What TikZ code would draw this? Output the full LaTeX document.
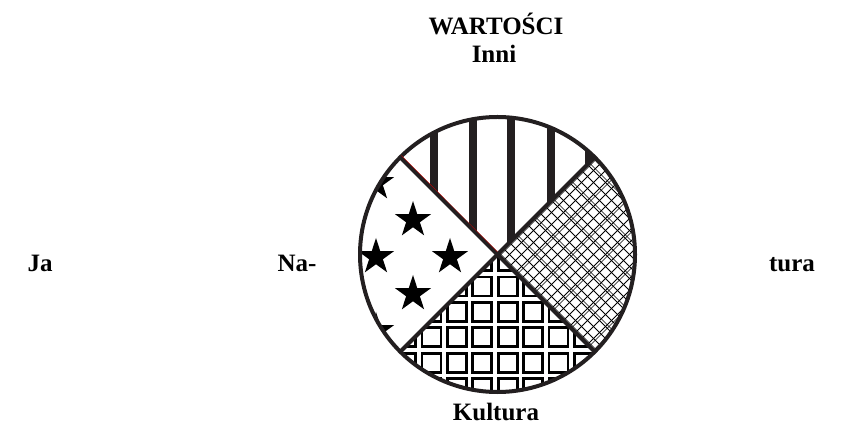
\documentclass[tikz,border=0pt]{standalone}
\usepackage{fontspec}
\setmainfont{Liberation Serif}
\usetikzlibrary{shapes.geometric}
\definecolor{ink}{HTML}{231F20}
\begin{document}
\begin{tikzpicture}[x=0.75pt,y=-0.75pt,
  lbl/.style={font=\fontsize{18.75}{22}\selectfont\bfseries, inner sep=0, anchor=base},
  starmark/.style={star, star points=5, star point ratio=2.618, fill=black, draw=none, inner sep=0pt, minimum size=28.5pt},
  hatch/.style={black, line width=0.55pt},
  cell/.style={black, line width=2.1pt},
  outline/.style={ink, line width=3pt}]
\useasboundingbox (0,0) rectangle (856,434);
\coordinate (c) at (497.5,254.5);
\coordinate (ul) at (400.3,157.3);
\coordinate (ur) at (594.7,157.3);
\coordinate (ll) at (400.3,351.7);
\coordinate (lr) at (594.7,351.7);
\coordinate (ulr) at (401.3,155.5);
\coordinate (cr) at (497.5,251.8);
% left sector: stars
\begin{scope}
  \clip (c) circle[radius=137.5];
  \clip (c) -- ++(-300,-300) -- ++(0,600) -- cycle;
  \foreach \p [count=\n] in {(413,220),(450,257),(376,257),(413,294),(376,183),(450,183),(376,331),(450,331),(339,220),(339,294)}
    \node[starmark] (st\n) at \p {};
\end{scope}
% top sector: vertical stripes
\begin{scope}
  \clip (c) circle[radius=137.5];
  \clip (c) -- ++(-300,-300) -- ++(600,0) -- cycle;
  \foreach \x in {434,472.5,511,551,589}
    \fill[ink] (\x-4,100) rectangle (\x+4,260);
\end{scope}
% right sector: diagonal crosshatch
\begin{scope}
  \clip (c) circle[radius=137.5];
  \clip (c) -- ++(300,-300) -- ++(0,600) -- cycle;
  \foreach \k in {-30,...,30} {
    \draw[hatch] (c) ++(\k*12,0) ++(-300,-300) -- ++(600,600);
    \draw[hatch] (c) ++(\k*12,0) ++(-300,300) -- ++(600,-600);
  }
  \foreach \k in {-10,...,10} {
    \draw[hatch, line width=0.4pt] (c) ++(\k*36+3.5,0) ++(-300,-300) -- ++(600,600);
    \draw[hatch, line width=0.4pt] (c) ++(\k*36+3.5,0) ++(-300,300) -- ++(600,-600);
  }
\end{scope}
% bottom sector: square grid
\begin{scope}
  \clip (c) circle[radius=137.5];
  \clip (c) -- ++(-300,300) -- ++(600,0) -- cycle;
  \foreach \i in {-4,...,8}
    \foreach \j in {-2,...,5}
      \draw[cell] (422+\i*25.4,277+\j*25.4) rectangle ++(19,19);
\end{scope}
% outline and dividers
\draw[outline] (c) circle[radius=137.5];
\draw[outline] (ul) -- (lr);
\draw[outline] (ur) -- (ll);
\draw[red!80!black, line width=0.25pt] (ulr) -- (cr);
% labels
\node[lbl] (wart) at (496,35) {WARTOŚCI};
\node[lbl] (inni) at (494,63) {Inni};
\node[lbl] (kult) at (496,420) {Kultura};
\node[lbl] (ja) at (40,272) {Ja};
\node[lbl] (na) at (297,272) {Na-};
\node[lbl] (tura) at (792,272) {tura};
\end{tikzpicture}
\end{document}
